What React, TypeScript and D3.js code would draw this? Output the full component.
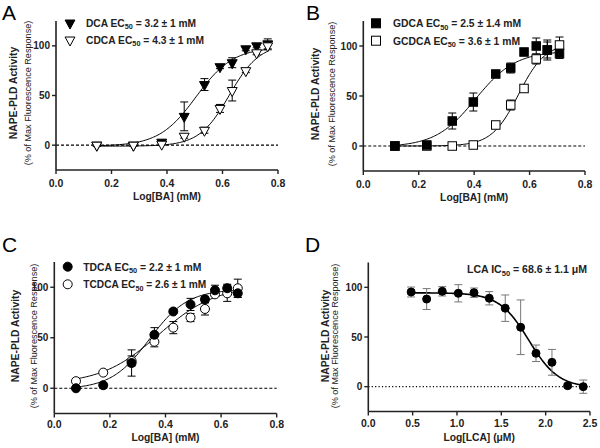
import React from 'react';
import * as d3 from 'd3';

const FONT = '"Liberation Sans", Arial, Helvetica, sans-serif';

// ---------- Panel A ----------
const aConc = [0.147, 0.279, 0.381, 0.462, 0.535, 0.591, 0.635, 0.684, 0.723, 0.763];
const dcaY = [0, 0, 3, 29, 61, 79, 83, 97, 100, 102];
const dcaErr = [1, 1, 2, 14.5, 6, 2, 5, 2, 2, 5];
const cdcaY = [0, 0, 1, 9, 15, 37, 55, 75, 93, 100];
const cdcaErr = [1, 1, 1, 2, 3, 4, 10.5, 2, 2, 4];
const dcaFit = { bottom: -1, top: 98.5, logEC: 0.505, hill: 6.5 };
const cdcaFit = { bottom: -1, top: 102, logEC: 0.625, hill: 8 };

// ---------- Panel B ----------
const bConc = [0.114, 0.229, 0.321, 0.397, 0.478, 0.532, 0.58, 0.624, 0.664, 0.708];
const gdcaY = [0, 1, 25, 44, 72, 78, 94, 100, 96, 92.5];
const gdcaErr = [1, 1, 8, 9, 2, 5, 2, 8, 10, 5];
const gcdcaY = [0, 0, 0, 1, 21, 41, 57.5, 87, 96, 101];
const gcdcaErr = [1, 1, 1, 1, 2, 5, 2, 5, 8, 8];
const gdcaFit = { bottom: -1, top: 95, logEC: 0.405, hill: 6 };
const gcdcaFit = { bottom: 0, top: 103, logEC: 0.56, hill: 9 };

// ---------- Panel C ----------
const cConc = [0.078, 0.176, 0.278, 0.36, 0.428, 0.49, 0.542, 0.578, 0.622, 0.66];
const tdcaY = [0, 3, 25, 53, 76, 83, 88, 97, 99, 94];
const tdcaErr = [1, 1, 13, 7, 2, 6, 3, 5, 4, 4];
const tcdcaY = [7, 15.5, 27, 46, 60, 70, 78.5, 93, 94, 99];
const tcdcaErr = [1, 1, 5, 5, 6, 4, 6, 2, 8, 9];
const tdcaFit = { bottom: -1, top: 98, logEC: 0.342, hill: 6.3 };
const tcdcaFit = { bottom: 4, top: 102, logEC: 0.375, hill: 4.2 };

// ---------- Panel D ----------
const lcaConc = [0.483, 0.658, 0.834, 1.015, 1.192, 1.364, 1.544, 1.718, 1.891, 2.071, 2.248, 2.424];
const lcaY = [95.3, 88.2, 96, 94, 94.6, 89, 79, 59.8, 33.6, 24.5, 1, 0];
const lcaErr = [5, 10.5, 4.7, 8.7, 4.7, 6.7, 13.3, 27.5, 8.3, 13, 2, 6.7];
const lcaFit = { bottom: -1, top: 94.5, logEC: 1.81, hill: -2.6 };

// ---------- Axes ----------
const yDomain = [-25, 125];
const yTicks = [0, 50, 100];
const baTicks = [0, 0.2, 0.4, 0.6, 0.8];
const lcaTicks = [0, 0.5, 1.0, 1.5, 2.0, 2.5];

type Fit = { bottom: number; top: number; logEC: number; hill: number };
type Shape = 'tri' | 'square' | 'circle';
type Series = { x: number[]; y: number[]; err: number[]; shape: Shape; filled: boolean; fit: Fit; size: number };
type LegendItem = { shape?: Shape; filled?: boolean; name: string; sub: string; rest: string; len: number };

const logistic = (f: Fit) => (x: number) => f.bottom + (f.top - f.bottom) / (1 + Math.pow(10, (f.logEC - x) * f.hill));

function Marker({ shape, filled, cx, cy, size }: { shape: Shape; filled: boolean; cx: number; cy: number; size: number }) {
  const fill = filled ? '#000' : '#fff';
  const stroke = '#000';
  if (shape === 'tri') {
    const w = size * 1.1;
    const h = size;
    const p = `M${cx - w / 2},${cy - h / 3}L${cx + w / 2},${cy - h / 3}L${cx},${cy + (2 * h) / 3}Z`;
    return <path d={p} fill={fill} stroke={stroke} strokeWidth={1} />;
  }
  if (shape === 'square') {
    return <rect x={cx - size / 2} y={cy - size / 2} width={size} height={size} fill={fill} stroke={stroke} strokeWidth={1} />;
  }
  return <circle cx={cx} cy={cy} r={size / 2} fill={fill} stroke={stroke} strokeWidth={1} />;
}

type PanelProps = {
  letter: string;
  letterX: number;
  letterY: number;
  xr: [number, number];
  yr: [number, number];
  xDomain: [number, number];
  xTicks: number[];
  fmt: (v: number) => string;
  series: Series[];
  legend: LegendItem[];
  legendX: number;
  legendTextX: number;
  legendY: number[];
  xLabel: string;
  tickOff: number;
  labelOff: number;
  ylabX: number;
  ysubX: number;
  ylabY: number;
  zeroDash: string;
  zeroWidth: number;
  errColor: string;
  curveWidth: number;
};

function Panel(p: PanelProps) {
  const x = d3.scaleLinear().domain(p.xDomain).range(p.xr);
  const y = d3.scaleLinear().domain(yDomain).range(p.yr);
  const axisColor = '#222';
  const yMid = p.ylabY;
  const xMid = (p.xr[0] + p.xr[1]) / 2;
  return (
    <g>
      <text x={p.letterX} y={p.letterY} fontSize={21} fontFamily={FONT} fill="#000">{p.letter}</text>
      {/* zero line */}
      <line x1={p.xr[0]} x2={p.xr[1]} y1={y(0)} y2={y(0)} stroke="#000" strokeWidth={p.zeroWidth} strokeDasharray={p.zeroDash} />
      {/* fits */}
      {p.series.map((s, i) => {
        const f = logistic(s.fit);
        const lo = d3.min(s.x) as number;
        const hi = d3.max(s.x) as number;
        const pts = d3.range(0, 121).map((k) => lo + ((hi - lo) * k) / 120);
        const line = d3.line<number>().x((v) => x(v)).y((v) => y(f(v)));
        return <path key={'f' + i} d={line(pts) || ''} fill="none" stroke="#000" strokeWidth={p.curveWidth} />;
      })}
      {/* error bars */}
      {p.series.map((s, i) => (
        <g key={'e' + i} stroke={p.errColor} strokeWidth={1}>
          {s.x.map((xv, j) => {
            const cx = x(xv);
            const y1 = y(s.y[j] + s.err[j]);
            const y2 = y(s.y[j] - s.err[j]);
            return (
              <g key={j}>
                <line x1={cx} x2={cx} y1={y1} y2={y2} />
                <line x1={cx - 4} x2={cx + 4} y1={y1} y2={y1} />
                <line x1={cx - 4} x2={cx + 4} y1={y2} y2={y2} />
              </g>
            );
          })}
        </g>
      ))}
      {/* markers */}
      {p.series.map((s, i) => (
        <g key={'m' + i}>
          {s.x.map((xv, j) => (
            <Marker key={j} shape={s.shape} filled={s.filled} cx={x(xv)} cy={y(s.y[j])} size={s.size} />
          ))}
        </g>
      ))}
      {/* axes */}
      <line x1={p.xr[0]} x2={p.xr[0]} y1={p.yr[0]} y2={p.yr[1]} stroke={axisColor} strokeWidth={1.6} />
      <line x1={p.xr[0]} x2={p.xr[1]} y1={p.yr[0]} y2={p.yr[0]} stroke={axisColor} strokeWidth={1.6} />
      {yTicks.map((t) => (
        <g key={'yt' + t}>
          <line x1={p.xr[0] - 4} x2={p.xr[0]} y1={y(t)} y2={y(t)} stroke={axisColor} strokeWidth={1.4} />
          <text x={p.xr[0] - 6} y={y(t) + 3.6} textAnchor="end" fontSize={10} fontWeight="bold" fontFamily={FONT} fill="#222">{t}</text>
        </g>
      ))}
      {p.xTicks.map((t) => (
        <g key={'xt' + t}>
          <line x1={x(t)} x2={x(t)} y1={p.yr[0]} y2={p.yr[0] + 4} stroke={axisColor} strokeWidth={1.4} />
          <text x={x(t)} y={p.yr[0] + p.tickOff} textAnchor="middle" fontSize={10.5} fontWeight="bold" fontFamily={FONT} fill="#222">{p.fmt(t)}</text>
        </g>
      ))}
      <text x={xMid} y={p.yr[0] + p.labelOff} textAnchor="middle" fontSize={10.3} fontWeight="bold" fontFamily={FONT} fill="#222">{p.xLabel}</text>
      <text transform={`translate(${p.ylabX},${yMid}) rotate(-90)`} textAnchor="middle" fontSize={10.3} fontWeight="bold" fontFamily={FONT} fill="#222">NAPE-PLD Activity</text>
      <text transform={`translate(${p.ysubX},${yMid}) rotate(-90)`} textAnchor="middle" fontSize={9.1} fontFamily={FONT} fill="#222">(% of Max Fluorescence Response)</text>
      {/* legend */}
      {p.legend.map((l, i) => (
        <g key={'l' + i}>
          {l.shape && <Marker shape={l.shape} filled={!!l.filled} cx={p.legendX} cy={p.legendY[i]} size={9} />}
          <text x={p.legendTextX} y={p.legendY[i] + 3.8} textLength={l.len} lengthAdjust="spacingAndGlyphs" fontSize={10.5} fontWeight="bold" fontFamily={FONT} fill="#222">
            {l.name}
            <tspan fontSize={7.5} dy={2.5}>{l.sub}</tspan>
            <tspan dy={-2.5}>{l.rest}</tspan>
          </text>
        </g>
      ))}
    </g>
  );
}

export default function App() {
  const fmt1 = (v: number) => v.toFixed(1);
  return (
    <svg width={600} height={448} style={{ position: 'absolute', left: 0, top: 0, background: '#fff' }}>
      <rect width={600} height={448} fill="#fff" />
      <Panel
        letter="A" letterX={2} letterY={20}
        xr={[56, 278]} yr={[170, 21]} xDomain={[0, 0.8]} xTicks={baTicks} fmt={fmt1}
        series={[
          { x: aConc, y: dcaY, err: dcaErr, shape: 'tri', filled: true, fit: dcaFit, size: 9 },
          { x: aConc, y: cdcaY, err: cdcaErr, shape: 'tri', filled: false, fit: cdcaFit, size: 9 },
        ]}
        legend={[
          { shape: 'tri', filled: true, name: 'DCA EC', sub: '50', rest: ' = 3.2 ± 1 mM', len: 110 },
          { shape: 'tri', filled: false, name: 'CDCA EC', sub: '50', rest: ' = 4.3 ± 1 mM', len: 118 },
        ]}
        legendX={70} legendTextX={86} legendY={[23, 40]}
        xLabel="Log[BA] (mM)" tickOff={17} labelOff={30}
        ylabX={17} ysubX={31} ylabY={93}
        zeroDash="3,2" zeroWidth={1.2} errColor="#000" curveWidth={1}
      />
      <Panel
        letter="B" letterX={306} letterY={20}
        xr={[363.3, 585]} yr={[171, 21]} xDomain={[0, 0.8]} xTicks={baTicks} fmt={fmt1}
        series={[
          { x: bConc, y: gcdcaY, err: gcdcaErr, shape: 'square', filled: false, fit: gcdcaFit, size: 8.5 },
          { x: bConc, y: gdcaY, err: gdcaErr, shape: 'square', filled: true, fit: gdcaFit, size: 8.5 },
        ]}
        legend={[
          { shape: 'square', filled: true, name: 'GDCA EC', sub: '50', rest: ' = 2.5 ± 1.4 mM', len: 128 },
          { shape: 'square', filled: false, name: 'GCDCA EC', sub: '50', rest: ' = 3.6 ± 1 mM', len: 127 },
        ]}
        legendX={376} legendTextX={393} legendY={[23.3, 40.7]}
        xLabel="Log[BA] (mM)" tickOff={17} labelOff={30}
        ylabX={319} ysubX={335} ylabY={94}
        zeroDash="3,2" zeroWidth={1.2} errColor="#000" curveWidth={1}
      />
      <Panel
        letter="C" letterX={2} letterY={252}
        xr={[54.3, 276.7]} yr={[413.5, 262]} xDomain={[0, 0.8]} xTicks={baTicks} fmt={fmt1}
        series={[
          { x: cConc, y: tcdcaY, err: tcdcaErr, shape: 'circle', filled: false, fit: tcdcaFit, size: 9 },
          { x: cConc, y: tdcaY, err: tdcaErr, shape: 'circle', filled: true, fit: tdcaFit, size: 9 },
        ]}
        legend={[
          { shape: 'circle', filled: true, name: 'TDCA EC', sub: '50', rest: ' = 2.2 ± 1 mM', len: 118 },
          { shape: 'circle', filled: false, name: 'TCDCA EC', sub: '50', rest: ' = 2.6 ± 1 mM', len: 123 },
        ]}
        legendX={67.7} legendTextX={83.3} legendY={[266.7, 284.3]}
        xLabel="Log[BA] (mM)" tickOff={14} labelOff={27}
        ylabX={19} ysubX={37} ylabY={336}
        zeroDash="3,2" zeroWidth={1.2} errColor="#000" curveWidth={1}
      />
      <Panel
        letter="D" letterX={305} letterY={252}
        xr={[368.3, 590]} yr={[411.5, 262.5]} xDomain={[0, 2.5]} xTicks={lcaTicks} fmt={fmt1}
        series={[
          { x: lcaConc, y: lcaY, err: lcaErr, shape: 'circle', filled: true, fit: lcaFit, size: 8 },
        ]}
        legend={[{ name: 'LCA IC', sub: '50', rest: ' =  68.6 ± 1.1 μM', len: 120 }]}
        legendX={0} legendTextX={467} legendY={[269.5]}
        xLabel="Log[LCA] (μM)" tickOff={15} labelOff={29}
        ylabX={329} ysubX={338} ylabY={336}
        zeroDash="1.2,2.2" zeroWidth={1.2} errColor="#777" curveWidth={1.6}
      />
    </svg>
  );
}
